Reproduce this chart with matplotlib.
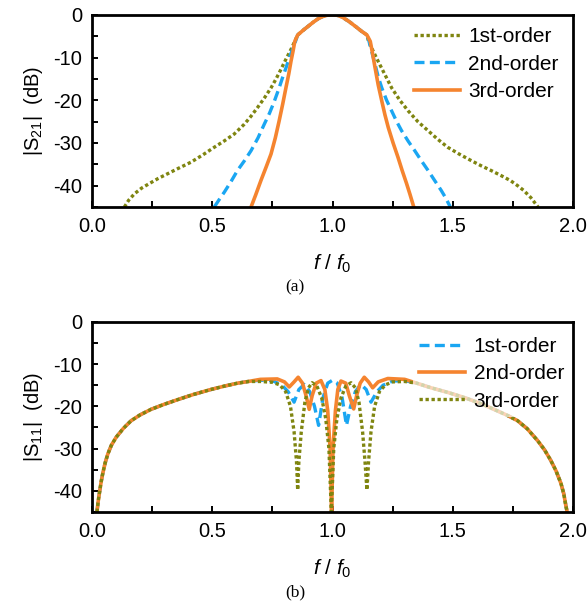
import matplotlib
matplotlib.use('Agg')
import matplotlib.pyplot as plt
from matplotlib.ticker import MultipleLocator

plt.rcParams['font.family'] = ['Liberation Sans', 'DejaVu Sans']
plt.rcParams['mathtext.fontset'] = 'custom'
plt.rcParams['mathtext.rm'] = 'Liberation Sans'
plt.rcParams['mathtext.it'] = 'Liberation Sans:italic'
plt.rcParams['axes.unicode_minus'] = False

# ---- panel (a): |S21| ----
# passband top, shared by all three orders
f_pass = [0.855, 0.88, 0.9, 0.92, 0.94, 0.96, 0.98, 1.0, 1.02, 1.04, 1.07, 1.1, 1.12, 1.143]
s21_pass = [-4.7, -3.5, -2.6, -1.7, -0.9, -0.35, -0.05, 0, -0.1, -0.5, -1.6, -2.9, -3.8, -4.7]

f_a1_lo = [0.134, 0.152, 0.176, 0.205, 0.238, 0.275, 0.314, 0.36, 0.411, 0.46, 0.508, 0.55,
           0.591, 0.633, 0.66, 0.688, 0.716, 0.744, 0.765, 0.785, 0.806, 0.827, 0.842]
s21_1_lo = [-45, -43.4, -41.9, -40.6, -39.5, -38.3, -37.2, -35.9, -34.5, -32.8, -31, -29.5,
            -27.9, -25.6, -23.8, -21.7, -19.5, -17.1, -15, -12.8, -10.4, -8.1, -6.3]
f_a1_hi = [1.15, 1.17, 1.19, 1.218, 1.246, 1.28, 1.315, 1.355, 1.397, 1.437, 1.479, 1.527,
           1.576, 1.617, 1.658, 1.7, 1.74, 1.77, 1.795, 1.825, 1.855]
s21_1_hi = [-6.2, -8.6, -10.9, -14, -17.1, -20, -22.5, -25, -27.1, -29.1, -31, -32.6,
            -34.1, -35.3, -36.4, -37.6, -38.8, -40, -41.1, -42.8, -45]

f_a2_lo = [0.508, 0.528, 0.55, 0.578, 0.605, 0.633, 0.661, 0.69, 0.716, 0.738, 0.758, 0.776,
           0.792, 0.807, 0.82, 0.841]
s21_2_lo = [-45, -43.3, -41.5, -39, -36.4, -34.2, -31.8, -28.8, -25.6, -23, -20.2, -17.4,
            -14.7, -12.3, -10.1, -7]
f_a2_hi = [1.15, 1.163, 1.177, 1.19, 1.205, 1.225, 1.246, 1.267, 1.287, 1.315, 1.342, 1.37,
           1.397, 1.425, 1.452, 1.47, 1.49]
s21_2_hi = [-5.8, -8.6, -11.6, -14.5, -17.1, -20, -22.5, -25, -27.1, -29.6, -31.8, -34.2,
            -36.4, -38.8, -41.1, -42.8, -45]

f_a3_lo = [0.661, 0.68, 0.702, 0.724, 0.744, 0.762, 0.778, 0.793, 0.806, 0.818, 0.827, 0.836, 0.843]
s21_3_lo = [-45, -42.2, -38.8, -35.6, -32.6, -28.8, -24.8, -20.8, -17.1, -13.8, -10.9, -8.4, -6.2]
f_a3_hi = [1.157, 1.167, 1.177, 1.19, 1.205, 1.218, 1.232, 1.252, 1.272, 1.29, 1.308, 1.322, 1.338]
s21_3_hi = [-6.2, -9.2, -12.4, -16.4, -20.2, -23.4, -26.4, -30, -33.3, -36.5, -39.5, -42, -45]

# ---- panel (b): |S11| ----
# outer skirts, shared by all three orders
f_skirt_lo = [0.02, 0.025, 0.03, 0.037, 0.044, 0.054, 0.065, 0.08, 0.1, 0.13, 0.162, 0.2,
              0.245, 0.3, 0.356, 0.42, 0.494, 0.55, 0.605, 0.65]
s11_skirt_lo = [-45, -42.5, -40.6, -38, -35.9, -33.4, -31.3, -29.2, -27.3, -25.2, -23.4, -22,
                -20.7, -19.5, -18.4, -17.2, -16, -15.2, -14.5, -14.1]
f_skirt_hi = [1.35, 1.41, 1.48, 1.548, 1.62, 1.687, 1.73, 1.77, 1.81, 1.853, 1.882, 1.908,
              1.93, 1.95, 1.962, 1.971, 1.976]
s11_skirt_hi = [-14.5, -15.6, -16.7, -17.9, -19.4, -21.1, -22.2, -23.4, -25.3, -28.1, -30.3,
                -32.8, -35.3, -38.2, -40.7, -43.6, -45]

f_b1_mid = [0.7, 0.75, 0.79, 0.815, 0.84, 0.86, 0.882, 0.905, 0.925, 0.942, 0.96, 0.98, 1.0,
            1.02, 1.04, 1.058, 1.075, 1.095, 1.118, 1.14, 1.16, 1.185, 1.21, 1.25, 1.3]
s11_1_mid = [-13.8, -13.9, -15, -16.5, -19, -16, -14.8, -16.5, -20, -24.5, -18, -14.5, -13.8,
             -14.5, -18, -24.5, -20, -16.5, -14.8, -16, -19, -16.5, -15, -14, -13.9]

f_b2_mid = [0.7, 0.77, 0.8, 0.82, 0.84, 0.857, 0.875, 0.89, 0.903, 0.915, 0.932, 0.952, 0.968,
            0.98, 0.99, 0.996, 1.002, 1.012, 1.022, 1.035, 1.055, 1.07, 1.088, 1.1, 1.115,
            1.132, 1.15, 1.167, 1.19, 1.23, 1.3]
s11_2_mid = [-13.6, -13.5, -14.2, -15.4, -14.2, -13.1, -14.5, -17.5, -20.7, -17.5, -14.5, -13.9, -16,
             -21, -30, -45, -30, -21, -16, -14, -14.5, -17.5, -20.6, -17.5, -14.5,
             -13.1, -14.2, -15.6, -14.2, -13.4, -13.6]

f_b3_mid = [0.7, 0.75, 0.78, 0.805, 0.825, 0.84, 0.85, 0.855, 0.86, 0.87, 0.885, 0.9, 0.915,
            0.935, 0.955, 0.972, 0.985, 0.995, 1.005, 1.018, 1.035, 1.055, 1.077, 1.095, 1.11,
            1.125, 1.135, 1.143, 1.15, 1.16, 1.175, 1.195, 1.22, 1.25, 1.3]
s11_3_mid = [-14.1, -14.3, -14.9, -16.5, -20, -26, -33, -39.8, -33, -26, -19, -15.6, -14.4,
             -15.2, -18, -23, -30, -45, -30, -23, -18, -15.2, -14.4, -15.6, -19,
             -26, -33, -39.8, -33, -26, -20, -16.5, -14.9, -14.2, -14.1]

OLIVE = '#7f8510'
BLUE = '#1aa6f2'
ORANGE = '#f5842f'
DOT = (0, (1, 0.8))
DASH = (0, (3, 1.6))

fig = plt.figure(figsize=(5.87, 6.08), dpi=100)
ax_a = fig.add_axes([0.157, 0.6595, 0.819, 0.316])
ax_b = fig.add_axes([0.157, 0.158, 0.819, 0.3125])

ax_a.plot(f_a1_lo + f_pass + f_a1_hi, s21_1_lo + s21_pass + s21_1_hi,
          color=OLIVE, lw=2.4, ls=DOT, label='1st-order')
ax_a.plot(f_a2_lo + f_pass + f_a2_hi, s21_2_lo + s21_pass + s21_2_hi,
          color=BLUE, lw=2.4, ls=DASH, label='2nd-order')
ax_a.plot(f_a3_lo + f_pass + f_a3_hi, s21_3_lo + s21_pass + s21_3_hi,
          color=ORANGE, lw=2.6, ls='-', label='3rd-order')

ax_b.plot(f_skirt_lo + f_b1_mid + f_skirt_hi, s11_skirt_lo + s11_1_mid + s11_skirt_hi,
          color=BLUE, lw=2.4, ls=DASH, label='1st-order')
ax_b.plot(f_skirt_lo + f_b2_mid + f_skirt_hi, s11_skirt_lo + s11_2_mid + s11_skirt_hi,
          color=ORANGE, lw=2.6, ls='-', label='2nd-order')
ax_b.plot(f_skirt_lo + f_b3_mid + f_skirt_hi, s11_skirt_lo + s11_3_mid + s11_skirt_hi,
          color=OLIVE, lw=2.4, ls=DOT, label='3rd-order')

for ax, ylab, anchor in [(ax_a, r'|S$_{21}$|  (dB)', (0.992, 0.99)),
                         (ax_b, r'|S$_{11}$|  (dB)', (1.003, 0.975))]:
    ax.set_xlim(0, 2)
    ax.set_ylim(-45, 0)
    ax.xaxis.set_minor_locator(MultipleLocator(0.25))
    ax.yaxis.set_minor_locator(MultipleLocator(5))
    ax.set_xticks([0, 0.5, 1.0, 1.5, 2.0])
    ax.set_xticklabels(['0.0', '0.5', '1.0', '1.5', '2.0'])
    ax.set_yticks([0, -10, -20, -30, -40])
    ax.tick_params(which='both', direction='in', width=1.4, labelsize=14.5, pad=7)
    ax.tick_params(which='major', length=4.5)
    ax.tick_params(which='minor', length=4)
    for sp in ax.spines.values():
        sp.set_linewidth(2.0)
    ax.set_ylabel(ylab, fontsize=14.5, labelpad=6)
    ax.set_xlabel(r'$f$ / $f_0$', fontsize=15, labelpad=12)
    leg = ax.legend(loc='upper right', bbox_to_anchor=anchor, fontsize=15, frameon=True,
                    framealpha=0.65, edgecolor='none', facecolor='white', fancybox=False,
                    handlelength=2.2, handletextpad=0.4, labelspacing=0.4,
                    borderpad=0.3, borderaxespad=0.2)
    # above the curves, below the frame
    leg.set_zorder(2.3)

fig.text(0.503, 0.528, '(a)', ha='center', va='center', fontsize=12.5, family='Liberation Serif')
fig.text(0.503, 0.025, '(b)', ha='center', va='center', fontsize=12.5, family='Liberation Serif')

fig.savefig('out.png', dpi=100)
